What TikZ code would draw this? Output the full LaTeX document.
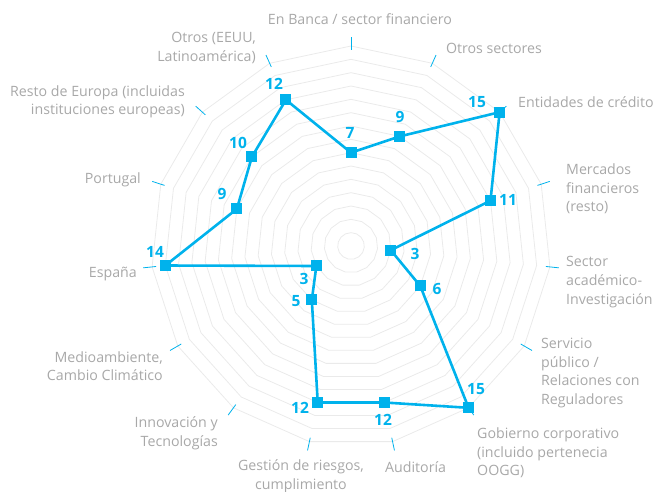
\documentclass[tikz,border=0pt]{standalone}
\usepackage{fontspec}
\setmainfont{Open Sans}
\definecolor{cy}{RGB}{0,178,236}
\definecolor{lab}{RGB}{168,168,168}
\definecolor{ringc}{RGB}{234,234,234}
\begin{document}
\begin{tikzpicture}[x=1pt,y=-1pt,
  ring/.style={draw=ringc,line width=0.8pt,line join=round},
  axtick/.style={draw=cy,line width=0.8pt},
  dataline/.style={draw=cy,line width=2.6pt,line join=round},
  marker/.style={rectangle,fill=cy,minimum size=11pt,inner sep=0pt},
  val/.style={text=cy,font=\bfseries\fontsize{15.5}{16}\selectfont,inner sep=0pt},
  lbl/.style={text=lab,font=\fontsize{14.2}{18.6}\selectfont,inner sep=0pt}]
\useasboundingbox (0,0) rectangle (657,492);
\def\cx{351}\def\cy{246}\def\u{13.333}
% rings
\foreach \k in {1,...,15}{
  \draw[ring] plot[samples at={0,24,...,360}] ({\cx+\k*\u*sin(\x)},{\cy-\k*\u*cos(\x)});
}
% ticks
\foreach \a in {0,24,...,336}{
  \draw[axtick] ({\cx+196*sin(\a)},{\cy-196*cos(\a)}) -- ({\cx+209*sin(\a)},{\cy-209*cos(\a)});
}
% data coordinates
\foreach \i/\v in {0/7,1/9,2/15,3/11,4/3,5/6,6/15,7/12,8/12,9/5,10/3,11/14,12/9,13/10,14/12}{
  \coordinate (c\i) at ({\cx+\v*\u*sin(\i*24)},{\cy-\v*\u*cos(\i*24)});
}
\draw[dataline] (c0) -- (c1) -- (c2) -- (c3) -- (c4) -- (c5) -- (c6) -- (c7) -- (c8) -- (c9) -- (c10) -- (c11) -- (c12) -- (c13) -- (c14) -- cycle;
\foreach \i in {0,...,14}{ \node[marker] (m\i) at (c\i) {}; }
% values
\node[val] (v0) at (350,133) {7};
\node[val] (v1) at (400,117) {9};
\node[val] (v2) at (477,102) {15};
\node[val] (v3) at (508,200) {11};
\node[val] (v4) at (415,254) {3};
\node[val] (v5) at (437,289) {6};
\node[val] (v6) at (476,389) {15};
\node[val] (v7) at (383,420) {12};
\node[val] (v8) at (300,408) {12};
\node[val] (v9) at (296,301) {5};
\node[val] (v10) at (304,279) {3};
\node[val] (v11) at (155,252) {14};
\node[val] (v12) at (222,194) {9};
\node[val] (v13) at (238,143) {10};
\node[val] (v14) at (274,84) {12};
% labels
\node[lbl] (l0) at (360,19) {En Banca / sector financiero};
\node[lbl] (l1) at (494,48) {Otros sectores};
\node[lbl,anchor=west] (l2) at (518,102) {Entidades de crédito};
\node[lbl,anchor=west,align=left] (l3) at (566,189) {Mercados\\financieros\\(resto)};
\node[lbl,anchor=west,align=left] (l4) at (566,282) {Sector\\académico-\\Investigación};
\node[lbl,anchor=west,align=left] (l5) at (541,373) {Servicio\\público /\\Relaciones con\\Reguladores};
\node[lbl,anchor=west,align=left] (l6) at (477,453) {Gobierno corporativo\\(incluido pertenecia\\OOGG)};
\node[lbl,anchor=west] (l7) at (385,467) {Auditoría};
\node[lbl,align=center] (l8) at (301,476) {Gestión de riesgos,\\cumplimiento};
\node[lbl,anchor=east,align=right] (l9) at (218,433) {Innovación y\\Tecnologías};
\node[lbl,anchor=east,align=right] (l10) at (163,366) {Medioambiente,\\Cambio Climático};
\node[lbl,anchor=east] (l11) at (137,274) {España};
\node[lbl,anchor=east] (l12) at (141,180) {Portugal};
\node[lbl,anchor=east,align=right] (l13) at (185,102) {Resto de Europa (incluidas\\instituciones europeas)};
\node[lbl,anchor=east,align=right] (l14) at (256,48) {Otros (EEUU,\\Latinoamérica)};
\end{tikzpicture}
\end{document}
